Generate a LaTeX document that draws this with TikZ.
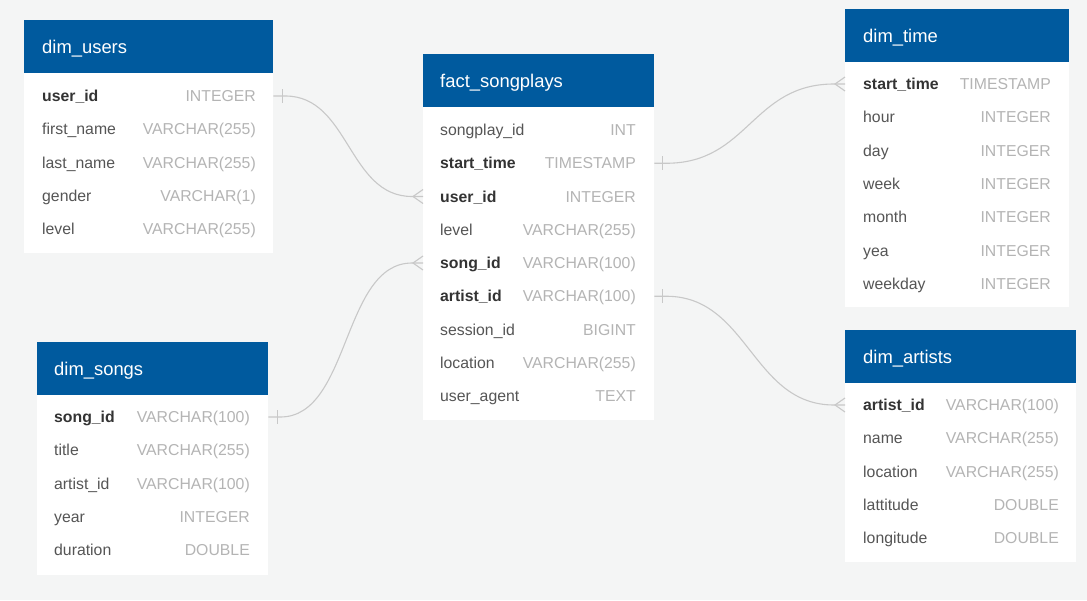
\documentclass[tikz,border=0pt]{standalone}
\usepackage{fontspec}
\setmainfont{Liberation Sans}
\usetikzlibrary{positioning,calc}
\definecolor{erblue}{HTML}{005A9E}
\definecolor{erbg}{HTML}{F4F5F5}
\definecolor{erkey}{HTML}{333333}
\definecolor{erfld}{HTML}{555555}
\definecolor{ertype}{HTML}{B4B4B4}
\definecolor{erline}{HTML}{C8C8C8}
\tikzset{
  tblbody/.style={fill=white, draw=none, anchor=north west, inner sep=0pt},
  tblhead/.style={fill=erblue, draw=none, anchor=north west, inner sep=0pt, minimum height=53pt},
  tbltitle/.style={text=white, inner sep=0pt, text height=13.2pt, text depth=0pt,
                   font=\fontsize{18.4}{22}\selectfont},
  key/.style={text=erkey, anchor=west, inner sep=0pt, text height=11.3pt, text depth=0pt,
              font=\fontsize{15.8}{19}\selectfont\bfseries},
  fld/.style={text=erfld, anchor=west, inner sep=0pt, text height=11.3pt, text depth=0pt,
              font=\fontsize{15.8}{19}\selectfont},
  dtype/.style={text=ertype, anchor=east, inner sep=0pt, text height=11.3pt, text depth=0pt,
                font=\fontsize{15.8}{19}\selectfont},
  rel/.style={draw=erline, line width=1.1pt},
}

\begin{document}
\begin{tikzpicture}[x=1pt, y=-1pt]
    \fill[erbg] (0,0) rectangle (1087,600);
    \useasboundingbox (0,0) rectangle (1087,600);
    % dim_users
    \node[tblbody, minimum width=249pt, minimum height=233pt] (usersbox) at (24,20) {};
    \node[tblhead, minimum width=249pt] (usershead) at (24,20) {};
    \node[tbltitle, right=18pt of usershead.west] (userstitle) {dim\_users};
    \foreach \s/\n/\t [count=\i] in {key/user\_id/INTEGER, fld/first\_name/VARCHAR(255),
        fld/last\_name/VARCHAR(255), fld/gender/VARCHAR(1), fld/level/VARCHAR(255)} {
      \node[\s] (u\i) at ({42},{96+33.3*(\i-1)}) {\n};
      \node[dtype] (ut\i) at ({256},{96+33.3*(\i-1)}) {\t};
    }
    % fact_songplays
    \node[tblbody, minimum width=231pt, minimum height=366pt] (factbox) at (423,54) {};
    \node[tblhead, minimum width=231pt] (facthead) at (423,54) {};
    \node[tbltitle, right=17pt of facthead.west] (facttitle) {fact\_songplays};
    \foreach \s/\n/\t [count=\i] in {fld/songplay\_id/INT, key/start\_time/TIMESTAMP,
        key/user\_id/INTEGER, fld/level/VARCHAR(255), key/song\_id/VARCHAR(100),
        key/artist\_id/VARCHAR(100), fld/session\_id/BIGINT, fld/location/VARCHAR(255),
        fld/user\_agent/TEXT} {
      \node[\s] (f\i) at ({440},{130+33.25*(\i-1)}) {\n};
      \node[dtype] (ft\i) at ({636},{130+33.25*(\i-1)}) {\t};
    }
    % dim_time
    \node[tblbody, minimum width=224pt, minimum height=298pt] (timebox) at (845,9) {};
    \node[tblhead, minimum width=224pt] (timehead) at (845,9) {};
    \node[tbltitle, right=18pt of timehead.west] (timetitle) {dim\_time};
    \foreach \s/\n/\t [count=\i] in {key/start\_time/TIMESTAMP, fld/hour/INTEGER,
        fld/day/INTEGER, fld/week/INTEGER, fld/month/INTEGER, fld/yea/INTEGER,
        fld/weekday/INTEGER} {
      \node[\s] (t\i) at ({863},{84+33.3*(\i-1)}) {\n};
      \node[dtype] (tt\i) at ({1051},{84+33.3*(\i-1)}) {\t};
    }
    % dim_artists
    \node[tblbody, minimum width=231pt, minimum height=232pt] (artistsbox) at (845,330) {};
    \node[tblhead, minimum width=231pt] (artistshead) at (845,330) {};
    \node[tbltitle, right=18pt of artistshead.west] (artiststitle) {dim\_artists};
    \foreach \s/\n/\t [count=\i] in {key/artist\_id/VARCHAR(100), fld/name/VARCHAR(255),
        fld/location/VARCHAR(255), fld/lattitude/DOUBLE, fld/longitude/DOUBLE} {
      \node[\s] (a\i) at ({863},{405+33.3*(\i-1)}) {\n};
      \node[dtype] (at\i) at ({1059},{405+33.3*(\i-1)}) {\t};
    }
    % dim_songs
    \node[tblbody, minimum width=231pt, minimum height=233pt] (songsbox) at (37,342) {};
    \node[tblhead, minimum width=231pt] (songshead) at (37,342) {};
    \node[tbltitle, right=17pt of songshead.west] (songstitle) {dim\_songs};
    \foreach \s/\n/\t [count=\i] in {key/song\_id/VARCHAR(100), fld/title/VARCHAR(255),
        fld/artist\_id/VARCHAR(100), fld/year/INTEGER, fld/duration/DOUBLE} {
      \node[\s] (s\i) at ({54},{417+33.3*(\i-1)}) {\n};
      \node[dtype] (st\i) at ({250},{417+33.3*(\i-1)}) {\t};
    }
    % relations: one side (bar) and many side (crow's foot)
    \coordinate (usersone) at (usersbox.east |- u1);
    \coordinate (factuser) at (factbox.west |- f3);
    \coordinate (songsone) at (songsbox.east |- s1);
    \coordinate (factsong) at (factbox.west |- f5);
    \coordinate (facttime) at (factbox.east |- f2);
    \coordinate (timemany) at (timebox.west |- t1);
    \coordinate (factartist) at (factbox.east |- f6);
    \coordinate (artistsmany) at (artistsbox.west |- a1);

    \draw[rel] (usersone) -- ++(12,0) .. controls +(64,0) and +(-64,0) .. ($(factuser)+(-11,0)$) -- (factuser);
    \draw[rel] (songsone) -- ++(12,0) .. controls +(70,0) and +(-70,0) .. ($(factsong)+(-11,0)$) -- (factsong);
    \draw[rel] (facttime) -- ++(12,0) .. controls +(82,0) and +(-82,0) .. ($(timemany)+(-11,0)$) -- (timemany);
    \draw[rel] (factartist) -- ++(12,0) .. controls +(82,0) and +(-82,0) .. ($(artistsmany)+(-11,0)$) -- (artistsmany);

    \foreach \c in {usersone, songsone} {
      \draw[rel] ($(\c)+(9,-7)$) -- ++(0,14);
    }
    \foreach \c in {facttime, factartist} {
      \draw[rel] ($(\c)+(8,-7)$) -- ++(0,14);
    }
    \foreach \c in {factuser, factsong, timemany, artistsmany} {
      \draw[rel] ($(\c)+(0,-7)$) -- ($(\c)+(-10,0)$) -- ($(\c)+(0,7)$);
    }
\end{tikzpicture}
\end{document}
